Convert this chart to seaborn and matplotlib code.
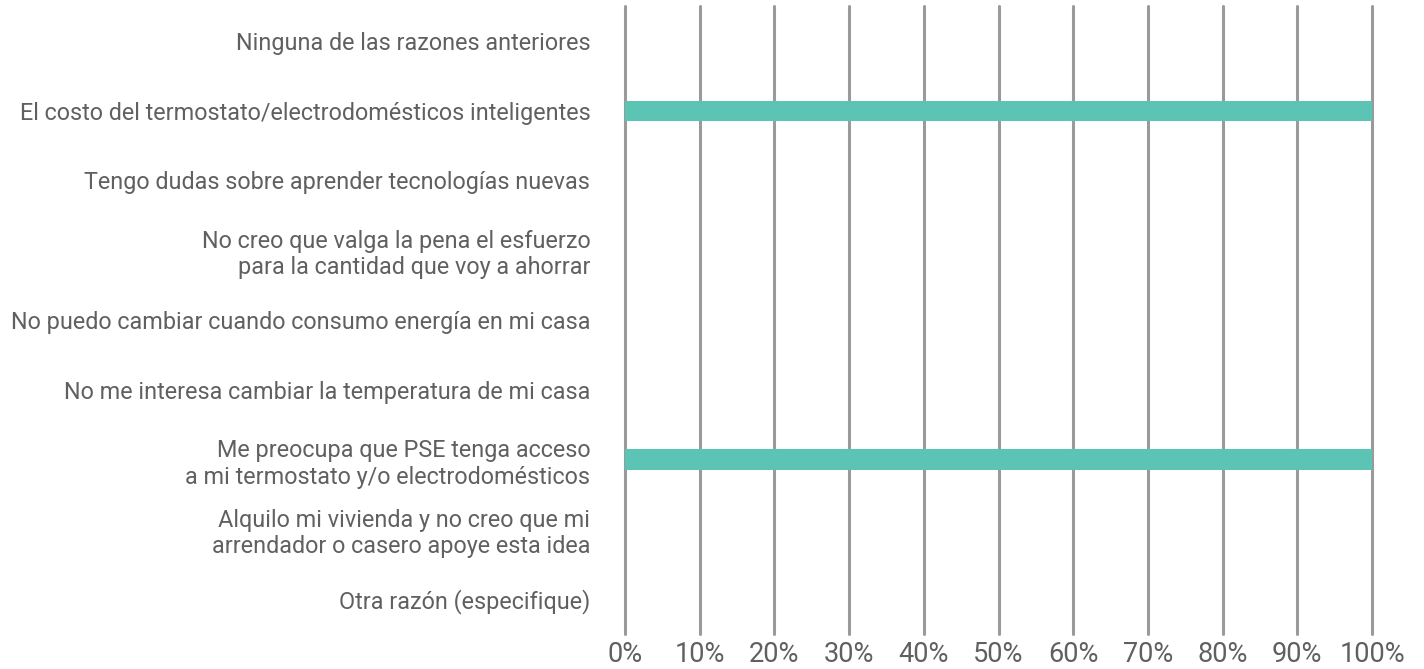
import matplotlib
matplotlib.use("Agg")
import matplotlib.pyplot as plt
import seaborn as sns
import pandas as pd
from matplotlib.ticker import PercentFormatter

sns.set_theme(style="white")
plt.rcParams["font.family"] = ["Roboto", "DejaVu Sans"]

categories = [
    "Ninguna de las razones anteriores",
    "El costo del termostato/electrodomésticos inteligentes",
    "Tengo dudas sobre aprender tecnologías nuevas",
    "No creo que valga la pena el esfuerzo\npara la cantidad que voy a ahorrar",
    "No puedo cambiar cuando consumo energía en mi casa",
    "No me interesa cambiar la temperatura de mi casa",
    "Me preocupa que PSE tenga acceso\na mi termostato y/o electrodomésticos",
    "Alquilo mi vivienda y no creo que mi\narrendador o casero apoye esta idea",
    "Otra razón (especifique)",
]
percentages = [0, 100, 0, 0, 0, 0, 100, 0, 0]
x_ticks = [0, 10, 20, 30, 40, 50, 60, 70, 80, 90, 100]

df = pd.DataFrame({"razon": categories, "pct": percentages})

fig = plt.figure(figsize=(14.24, 6.69), dpi=100)
ax = fig.add_axes([625 / 1424, 1 - 634 / 669, (1372 - 625) / 1424, (634 - 6) / 669])

sns.barplot(data=df, x="pct", y="razon", order=categories, color="#5BC4B4",
            width=0.29, saturation=1, linewidth=0, ax=ax, zorder=3)

ax.set_xlim(0, 100)
ax.set_ylim(len(categories) - 0.5, -0.5)
ax.set_xticks(x_ticks)
ax.xaxis.set_major_formatter(PercentFormatter(decimals=0))
for x in x_ticks:
    ax.axvline(x, color="#9a9a9a", lw=2.2, zorder=1, clip_on=False)

for s in ax.spines.values():
    s.set_visible(False)
ax.grid(False)
ax.set_xlabel("")
ax.set_ylabel("")
ax.tick_params(axis="x", length=0, pad=5, labelsize=19.5, labelcolor="#606060")
ax.tick_params(axis="y", length=0, pad=25, labelsize=16.8, labelcolor="#606060")
for lab in ax.get_yticklabels():
    lab.set_horizontalalignment("right")
    lab.set_multialignment("right")

fig.savefig("out.png", dpi=100, facecolor="white")
